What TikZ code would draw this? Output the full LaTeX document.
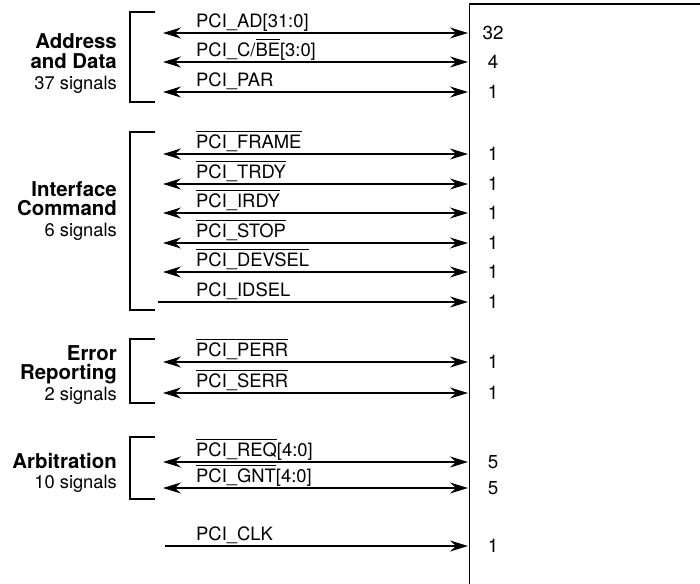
\documentclass[tikz,border=0pt]{standalone}
\usepackage{fontspec}
\setmainfont{TeX Gyre Heros}
\usetikzlibrary{arrows.meta}
\newcommand\ovl[1]{\leavevmode\vbox{\hrule height 0.7pt\kern 3.6pt\hbox{#1}}}
\newcommand\sigrow[6]{%
  \coordinate (#1L) at (#6,#2);
  \coordinate (#1R) at (468,#2);
  \draw[#5] (#1L) -- (#1R);
  \node[siglab] (#1T) at (196,#2-5.2) {#3};
  \node[numlab] (#1N) at (493,#2) {#4};
}
\newcommand\grpbracket[3]{%
  \coordinate (#1a) at (155,#2);
  \coordinate (#1b) at (130,#2);
  \coordinate (#1c) at (130,#3);
  \coordinate (#1d) at (155,#3);
  \draw[brk] (#1a) -- (#1b) -- (#1c) -- (#1d);
}
\begin{document}
\begin{tikzpicture}[x=1pt,y=-1pt,
  tip/.tip={Stealth[length=18pt,width=11pt,inset=6pt]},
  bi/.style={line width=1.6pt,{tip}-{tip}},
  uni/.style={line width=1.6pt,-{tip}},
  brk/.style={line width=1.6pt},
  siglab/.style={anchor=base west,inner sep=0pt,font=\fontsize{18.4}{20}\selectfont},
  numlab/.style={anchor=center,inner sep=0pt,font=\fontsize{18.8}{20}\selectfont},
  grpb/.style={anchor=base east,inner sep=0pt,font=\fontsize{20.4}{22}\selectfont\bfseries},
  grpn/.style={anchor=base east,inner sep=0pt,font=\fontsize{18.3}{20}\selectfont}]
\useasboundingbox (0,0) rectangle (700,583);
% chip box
\coordinate (boxTR) at (705,4);
\coordinate (boxTL) at (469.5,4);
\coordinate (boxBL) at (469.5,590);
\draw[line width=1.8pt] (boxTR) -- (boxTL) -- (boxBL);
% brackets
\grpbracket{g1}{12}{102}
\grpbracket{g2}{132}{310}
\grpbracket{g3}{339}{403}
\grpbracket{g4}{437}{499}
% signals
\sigrow{ad}{33}{PCI\_AD[31:0]}{32}{bi}{163}
\sigrow{cbe}{62}{PCI\_C/\ovl{BE}[3:0]}{4}{bi}{163}
\sigrow{par}{92}{PCI\_PAR}{1}{bi}{163}
\sigrow{frame}{154}{\ovl{PCI\_FRAME}}{1}{bi}{163}
\sigrow{trdy}{184}{\ovl{PCI\_TRDY}}{1}{bi}{163}
\sigrow{irdy}{213}{\ovl{PCI\_IRDY}}{1}{bi}{163}
\sigrow{stop}{243}{\ovl{PCI\_STOP}}{1}{bi}{163}
\sigrow{devsel}{272}{\ovl{PCI\_DEVSEL}}{1}{bi}{163}
\sigrow{idsel}{302}{PCI\_IDSEL}{1}{uni}{158}
\sigrow{perr}{362}{\ovl{PCI\_PERR}}{1}{bi}{163}
\sigrow{serr}{393}{\ovl{PCI\_SERR}}{1}{bi}{163}
\sigrow{req}{462}{\ovl{PCI\_REQ}[4:0]}{5}{bi}{163}
\sigrow{gnt}{488}{\ovl{PCI\_GNT}[4:0]}{5}{bi}{163}
\sigrow{clk}{546}{PCI\_CLK}{1}{uni}{165}
% group labels
\node[grpb] (g1t1) at (117,49) {Address};
\node[grpb] (g1t2) at (117,68.5) {and Data};
\node[grpn] (g1t3) at (117,89) {37 signals};
\node[grpb] (g2t1) at (117,196) {Interface};
\node[grpb] (g2t2) at (117,215.5) {Command};
\node[grpn] (g2t3) at (117,236) {6 signals};
\node[grpb] (g3t1) at (117,360) {Error};
\node[grpb] (g3t2) at (117,379) {Reporting};
\node[grpn] (g3t3) at (117,400) {2 signals};
\node[grpb] (g4t1) at (117,468) {Arbitration};
\node[grpn] (g4t3) at (117,488) {10 signals};
\end{tikzpicture}
\end{document}
